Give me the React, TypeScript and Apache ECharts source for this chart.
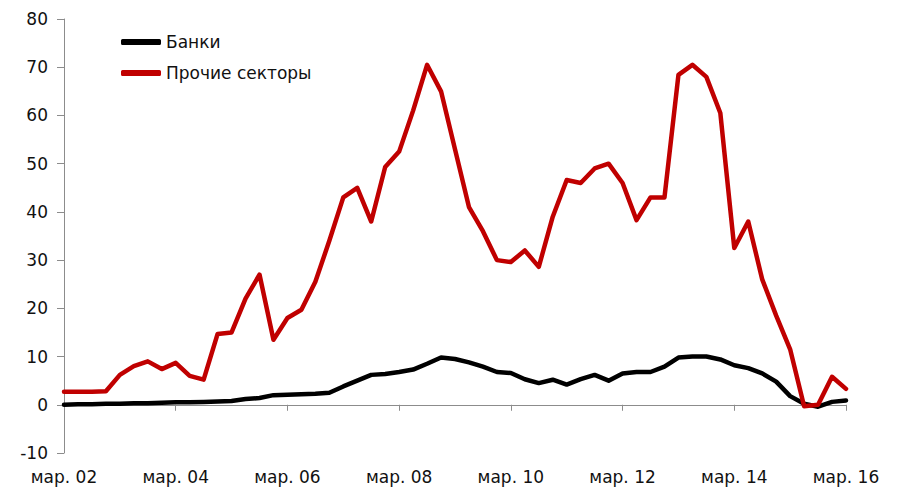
import React, { useEffect, useRef } from "react";
import * as echarts from "echarts";

const years = ["02", "03", "04", "05", "06", "07", "08", "09", "10", "11", "12", "13", "14", "15", "16"];
const quarterMonths = ["мар.", "июн.", "сен.", "дек."];
const categories: string[] = [];
years.forEach((y, yi) => {
  quarterMonths.forEach((m, qi) => {
    if (yi === years.length - 1 && qi > 0) return;
    categories.push(`${m} ${y}`);
  });
});

const banks = [
  0, 0.1, 0.1, 0.2, 0.2, 0.3, 0.3, 0.4, 0.5, 0.5,
  0.6, 0.7, 0.8, 1.2, 1.4, 2, 2.1, 2.2, 2.3, 2.5,
  3.8, 5, 6.2, 6.4, 6.8, 7.3, 8.5, 9.8, 9.5, 8.8,
  7.9, 6.8, 6.6, 5.3, 4.5, 5.2, 4.2, 5.3, 6.2, 5,
  6.5, 6.8, 6.8, 7.9, 9.8, 10, 10, 9.4, 8.2, 7.6,
  6.5, 4.8, 1.8, 0.2, -0.4, 0.6, 0.9,
];

const otherSectors = [
  2.7, 2.7, 2.7, 2.8, 6.2, 8, 9, 7.4, 8.7, 6,
  5.2, 14.7, 15, 22, 27, 13.5, 18, 19.7, 25.5, 34,
  43, 45, 38, 49.3, 52.5, 61, 70.5, 65, 53, 41,
  36, 30, 29.6, 32, 28.6, 39, 46.6, 46, 49, 50,
  46, 38.3, 43, 43, 68.4, 70.5, 68, 60.5, 32.5, 38,
  26, 18.5, 11.5, -0.3, 0, 5.8, 3.3,
];

const FONT = "DejaVu Sans";

export default function App() {
  const ref = useRef<HTMLDivElement>(null);
  useEffect(() => {
    if (!ref.current) return;
    const chart = echarts.init(ref.current, undefined, { renderer: "svg" });
    chart.setOption({
      animation: false,
      backgroundColor: "#fff",
      grid: { left: 64, right: 51, top: 19, bottom: 34 },
      legend: {
        orient: "vertical",
        left: 121,
        top: 33,
        padding: 0,
        itemWidth: 40,
        itemHeight: 6,
        itemGap: 13,
        icon: "roundRect",
        textStyle: { fontFamily: FONT, fontSize: 17, color: "#111", lineHeight: 18 },
        data: ["Банки", "Прочие секторы"],
      },
      xAxis: [
        {
          type: "category",
          data: categories,
          boundaryGap: false,
          position: "bottom",
          axisLine: { show: false, onZero: false },
          axisTick: { show: false },
          axisLabel: {
            interval: 7,
            margin: 15,
            fontFamily: FONT,
            fontSize: 17,
            color: "#111",
          },
          splitLine: { show: false },
        },
        {
          type: "category",
          data: categories,
          boundaryGap: false,
          position: "bottom",
          axisLine: { show: true, onZero: true, lineStyle: { color: "#8c8c8c", width: 1 } },
          axisTick: { show: true, interval: 7, length: 6, lineStyle: { color: "#8c8c8c" } },
          axisLabel: { show: false },
          splitLine: { show: false },
        },
      ],
      yAxis: {
        type: "value",
        min: -10,
        max: 80,
        interval: 10,
        axisLine: { show: true, lineStyle: { color: "#8c8c8c", width: 1 } },
        axisTick: { show: true, length: 7, lineStyle: { color: "#8c8c8c" } },
        axisLabel: { margin: 16, fontFamily: FONT, fontSize: 17, color: "#111" },
        splitLine: { show: false },
      },
      series: [
        {
          name: "Банки",
          type: "line",
          xAxisIndex: 0,
          data: banks,
          showSymbol: false,
          symbol: "none",
          color: "#000000",
          lineStyle: { width: 4.5, color: "#000000", join: "round", cap: "round" },
          z: 3,
        },
        {
          name: "Прочие секторы",
          type: "line",
          xAxisIndex: 0,
          data: otherSectors,
          showSymbol: false,
          symbol: "none",
          color: "#c00000",
          lineStyle: { width: 4.5, color: "#c00000", join: "round", cap: "round" },
          z: 4,
        },
      ],
    });
    return () => chart.dispose();
  }, []);
  return (
    <div
      ref={ref}
      style={{ position: "absolute", left: 0, top: 0, width: 897, height: 487 }}
    />
  );
}
